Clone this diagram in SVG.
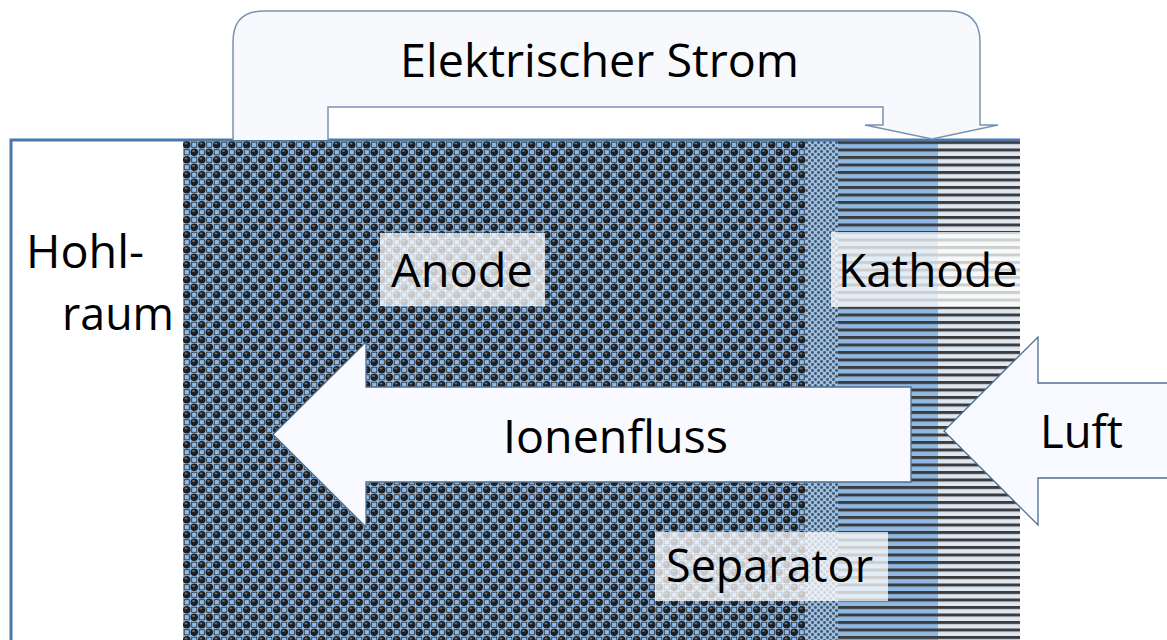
<svg xmlns="http://www.w3.org/2000/svg" width="1167" height="640" viewBox="0 0 1167 640">
  <style>
    .lbl { font-family: "Open Sans", "Noto Sans", "DejaVu Sans", sans-serif; font-size: 45px; fill: #000; }
    .box { fill: #ffffff; fill-opacity: 0.75; }
    .block { fill: #f8faff; stroke: #4d6f93; stroke-width: 1.3; stroke-linejoin: miter; }
  </style>
  <defs>
    <!-- anode: dark spheres in a checkerboard on light blue -->
    <pattern id="spheres" x="183" y="141" width="15" height="15" patternUnits="userSpaceOnUse">
      <rect width="15" height="15" fill="#8fbbe6"/>
      <rect x="8.7" y="1.2" width="5.1" height="5.1" fill="none" stroke="#2a3038" stroke-width="0.85"/>
      <rect x="1.2" y="8.7" width="5.1" height="5.1" fill="none" stroke="#2a3038" stroke-width="0.85"/>
      <circle cx="3.75" cy="3.75" r="3.8" fill="#1e1f22"/>
      <circle cx="11.25" cy="11.25" r="3.8" fill="#1e1f22"/>
      <ellipse cx="3" cy="2.4" rx="1.5" ry="1" fill="#6c7076"/>
      <ellipse cx="10.5" cy="9.9" rx="1.5" ry="1" fill="#6c7076"/>
    </pattern>
    <!-- separator: fine mesh -->
    <pattern id="mesh" x="805" y="141" width="6" height="6" patternUnits="userSpaceOnUse">
      <rect width="6" height="6" fill="#9cc0e4"/>
      <circle cx="1.5" cy="1.5" r="1.4" fill="#46525f"/>
      <circle cx="4.5" cy="4.5" r="1.4" fill="#46525f"/>
    </pattern>
    <!-- cathode: horizontal stripes -->
    <pattern id="stripesBlue" x="0" y="141" width="10" height="7.5" patternUnits="userSpaceOnUse">
      <rect width="10" height="7.5" fill="#8fb9e3"/>
      <rect width="10" height="3" fill="#3b3c3f"/>
    </pattern>
    <pattern id="stripesGrey" x="0" y="141" width="10" height="7.5" patternUnits="userSpaceOnUse">
      <rect width="10" height="7.5" fill="#dee6ef"/>
      <rect width="10" height="3" fill="#3b3c3f"/>
    </pattern>
  </defs>

  <rect width="1167" height="640" fill="#ffffff"/>

  <!-- cell layers -->
  <g id="anode">
    <rect x="183" y="141" width="622" height="499" fill="url(#spheres)"/>
  </g>
  <g id="separator">
    <rect x="805" y="141" width="33" height="499" fill="url(#mesh)"/>
  </g>
  <g id="cathode">
    <rect x="838" y="141" width="100" height="499" fill="url(#stripesBlue)"/>
    <rect x="938" y="141" width="82" height="499" fill="url(#stripesGrey)"/>
  </g>

  <!-- housing outline -->
  <g id="frame">
    <path d="M11,640 V140 H1020" fill="none" stroke="#4a78a8" stroke-width="3"/>
  </g>

  <g id="connectors">
    <!-- electric current: bent arrow over the cell -->
    <path id="current" class="block" style="fill:#f8f9fd;stroke:#7a93b0;stroke-width:1.5"
          d="M233,140 V42 Q233,11 264,11 H949 Q980,11 980,42 V125 H998 L932,139 L865,125 H883 V107 H328 V140"/>
    <!-- ion flow -->
    <path id="ionflow" class="block" d="M911,387 H366 V342 L273,434.5 L366,527 V482 H911 Z"/>
    <!-- air inlet -->
    <path id="air" class="block" d="M1168,383 H1038 V337 L944,431 L1038,525 V478 H1168"/>
  </g>

  <g id="label-current">
    <text class="lbl" x="400" y="77" textLength="399" lengthAdjust="spacingAndGlyphs">Elektrischer Strom</text>
  </g>
  <g id="label-cavity">
    <text class="lbl" x="26" y="268" textLength="118" lengthAdjust="spacingAndGlyphs">Hohl-</text>
    <text class="lbl" x="62" y="330" textLength="112" lengthAdjust="spacingAndGlyphs">raum</text>
  </g>
  <g id="label-anode">
    <rect class="box" x="380" y="233" width="165" height="73"/>
    <text class="lbl" x="391" y="287" textLength="142" lengthAdjust="spacingAndGlyphs">Anode</text>
  </g>
  <g id="label-cathode">
    <rect class="box" x="831" y="232" width="189" height="75"/>
    <text class="lbl" x="838" y="287" textLength="180" lengthAdjust="spacingAndGlyphs">Kathode</text>
  </g>
  <g id="label-separator">
    <rect class="box" x="655" y="532" width="233" height="69"/>
    <text class="lbl" x="666" y="582" textLength="207" lengthAdjust="spacingAndGlyphs">Separator</text>
  </g>
  <g id="label-ionflow">
    <text class="lbl" x="503" y="453" textLength="225" lengthAdjust="spacingAndGlyphs">Ionenfluss</text>
  </g>
  <g id="label-air">
    <text class="lbl" x="1040" y="448" textLength="83" lengthAdjust="spacingAndGlyphs">Luft</text>
  </g>
</svg>
